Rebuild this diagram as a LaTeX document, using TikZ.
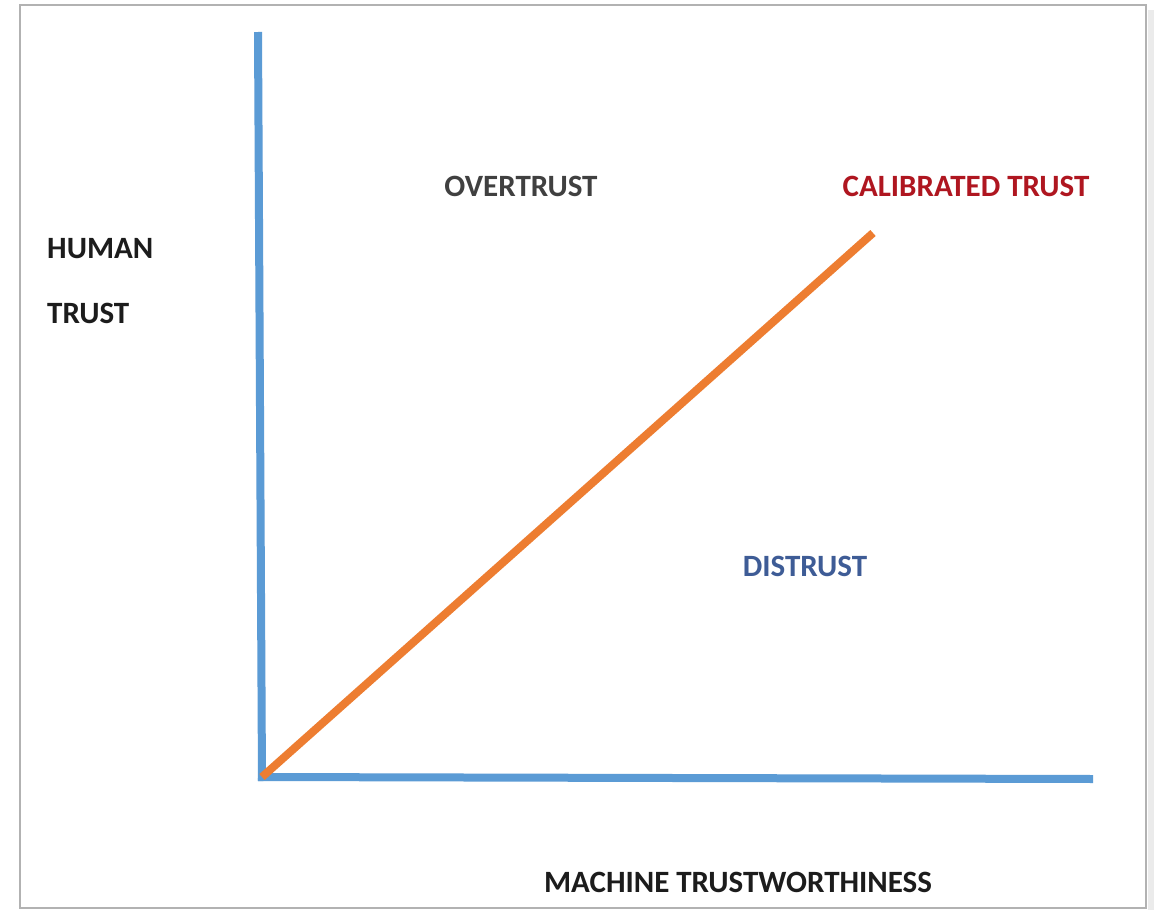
\documentclass[tikz,border=0pt]{standalone}
\usepackage{fontspec}
\setmainfont{Carlito}
\usepackage{tikz}
\usetikzlibrary{positioning}
\usepackage{xcolor}
\definecolor{ejeAzul}{RGB}{91, 155, 213}
\definecolor{lineaNaranja}{RGB}{237, 125, 49}
\definecolor{rojoCal}{RGB}{175, 22, 32}
\definecolor{azulDis}{RGB}{62, 92, 150}
\definecolor{grisTxt}{RGB}{64, 64, 64}
\definecolor{negroTxt}{RGB}{28, 28, 28}

\begin{document}
\begin{tikzpicture}[
  x=1pt, y=-1pt,
  lbl/.style={font=\fontsize{31}{36}\selectfont\bfseries, inner sep=0pt},
  axis/.style={line width=8pt, ejeAzul},
  trend/.style={line width=8pt, lineaNaranja}
]
\useasboundingbox (0,0) rectangle (1160,910);
\fill[white] (0,0) rectangle (1160,910);
% sheet frame with a light shadow
\draw[black!8, line width=6pt] (1151,10) -- (1151,910);
\draw[black!30, line width=1.5pt] (20,5) rectangle (1146,908);

% axes
\coordinate (origin) at (262,777);
\coordinate (ytop) at (258,32);
\coordinate (xend) at (1093,779);
\draw[axis] (ytop) -- (262,781);
\draw[axis] (258,777) -- (xend);

% calibrated trust line
\coordinate (calend) at (873,233);
\draw[trend] (origin) -- (calend);

% labels
\node[lbl, text=grisTxt] (over) at (521,186) {OVERTRUST};
\node[lbl, text=rojoCal] (calib) at (966,186) {CALIBRATED TRUST};
\node[lbl, text=azulDis] (dist) at (805,566) {DISTRUST};
\node[lbl, text=negroTxt, anchor=west] (human) at (47,249) {HUMAN};
\node[lbl, text=negroTxt, anchor=west] (trust) at (47,313) {TRUST};
\node[lbl, text=negroTxt] (machine) at (738,882) {MACHINE TRUSTWORTHINESS};
\end{tikzpicture}
\end{document}
